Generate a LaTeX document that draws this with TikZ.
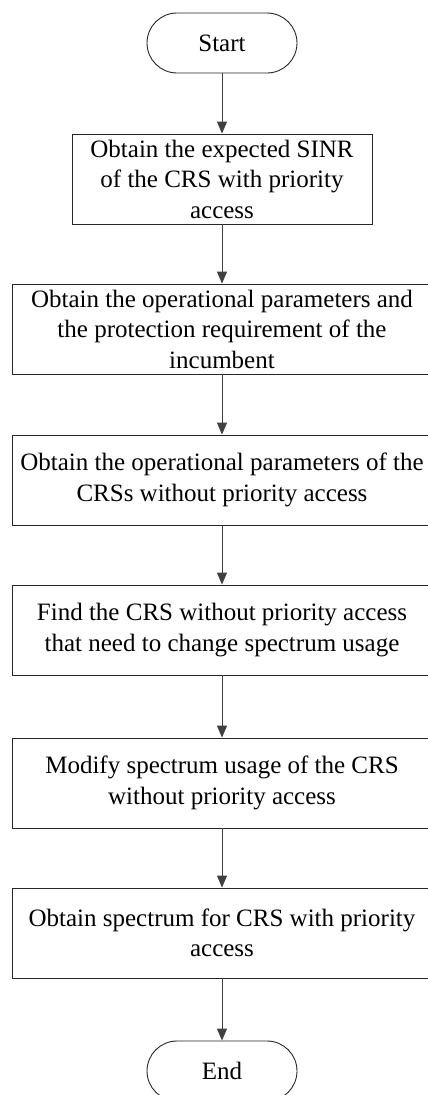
\documentclass[tikz,border=0pt]{standalone}
\usepackage{fontspec}
\setmainfont{Liberation Serif}
\usetikzlibrary{shapes,arrows.meta,positioning}

\begin{document}
\begin{tikzpicture}[x=1pt, y=1pt, node distance=150pt,
    font=\fontsize{25}{30.5}\selectfont,
    terminal/.style={rectangle, draw=black!85, rounded corners=30pt, minimum width=150pt, minimum height=60pt, line width=0.9pt},
    block/.style={rectangle, draw=black!85, minimum width=420pt, minimum height=90pt, align=center, inner sep=2pt, line width=0.9pt},
    arrow/.style={draw=black!75, line width=0.9pt, -{Triangle[length=12pt,width=10pt]}}]

    \useasboundingbox (0,0) rectangle (428,-1095);

    \node [terminal] (start) at (222,-43) {Start};
    \node [block, minimum width=300pt, node distance=136pt, below of=start] (sinr) {Obtain the expected SINR\\of the CRS with priority\\access};
    \node [block, below of=sinr] (incumbent) {Obtain the operational parameters and\\the protection requirement of the\\incumbent};
    \node [block, node distance=151pt, below of=incumbent] (others) {Obtain the operational parameters of the\\CRSs without priority access};
    \node [block, below of=others] (find) {Find the CRS without priority access\\that need to change spectrum usage};
    \node [block, node distance=153pt, below of=find] (modify) {Modify spectrum usage of the CRS\\without priority access};
    \node [block, below of=modify] (spectrum) {Obtain spectrum for CRS with priority\\access};
    \node [terminal, node distance=138pt, below of=spectrum] (end) {End};

    \draw [arrow] (start) -- (sinr);
    \draw [arrow] (sinr) -- (incumbent);
    \draw [arrow] (incumbent) -- (others);
    \draw [arrow] (others) -- (find);
    \draw [arrow] (find) -- (modify);
    \draw [arrow] (modify) -- (spectrum);
    \draw [arrow] (spectrum) -- (end);
\end{tikzpicture}
\end{document}
